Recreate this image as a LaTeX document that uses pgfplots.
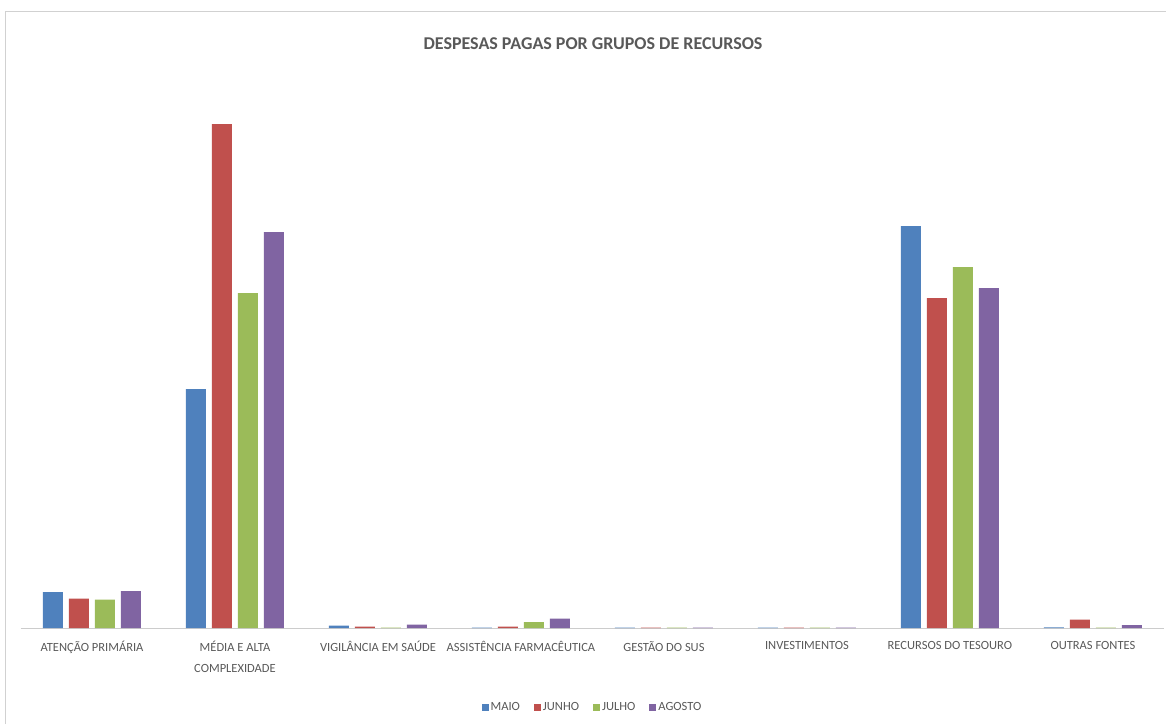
\documentclass[border=0pt]{standalone}
\usepackage{pgfplots}
\pgfplotsset{compat=1.18}
\usepackage{fontspec}
\setmainfont{Carlito}

\definecolor{cMaio}{HTML}{4F81BD}
\definecolor{cJunho}{HTML}{C0504D}
\definecolor{cJulho}{HTML}{9BBB59}
\definecolor{cAgosto}{HTML}{8064A2}
\definecolor{txt}{HTML}{595959}

\begin{document}
\begin{tikzpicture}
% canvas: the axis box starts at (0,0); the page runs from x=-20.5pt to 1145.5pt
\useasboundingbox (-20.5pt,-96pt) rectangle (1145.5pt,628pt);
% chart frame
\draw[black!18, line width=1pt] (-14.5pt,-96pt) -- (-14.5pt,616pt) -- (1145.5pt,616pt);
% title
\node[font=\bfseries\fontsize{18}{20}\selectfont, text=txt] at (572.5pt,584pt)
  {DESPESAS PAGAS POR GRUPOS DE RECURSOS};
\begin{axis}[
  scale only axis, width=1144pt, height=560pt,
  xmin=-0.5, xmax=7.5, ymin=0, ymax=560,
  ybar=6pt, bar width=20pt,
  axis y line=none, axis x line*=bottom,
  x axis line style={black!20, line width=1pt},
  ytick=\empty,
  xtick={0,...,7}, major tick length=0pt,
  xticklabels={ATENÇÃO PRIMÁRIA,{MÉDIA E ALTA\\COMPLEXIDADE},VIGILÂNCIA EM SAÚDE,ASSISTÊNCIA FARMACÊUTICA,GESTÃO DO SUS,INVESTIMENTOS,RECURSOS DO TESOURO,OUTRAS FONTES},
  xticklabel style={font=\fontsize{12.5}{21}\selectfont, text=txt, align=center, yshift=-10pt},
  legend columns=4,
  legend style={draw=none, at={(0.5,-0.142)}, anchor=center,
    font=\fontsize{12.5}{14}\selectfont, text=txt,
    /tikz/every even column/.append style={column sep=12pt}},
  legend image code/.code={\fill[#1] (0pt,-3.5pt) rectangle (7pt,3.5pt);},
]
\addplot[fill=cMaio, draw=none] coordinates {(0,36) (1,239) (2,2.3) (3,0.4) (4,0.3) (5,0.3) (6,402) (7,0.6)};
\addplot[fill=cJunho, draw=none] coordinates {(0,29.5) (1,504) (2,1.5) (3,1.5) (4,0.3) (5,0.5) (6,330) (7,8.4)};
\addplot[fill=cJulho, draw=none] coordinates {(0,28.5) (1,335) (2,0.4) (3,6) (4,0.3) (5,0.3) (6,361) (7,0.4)};
\addplot[fill=cAgosto, draw=none] coordinates {(0,37) (1,396) (2,3.3) (3,9.3) (4,0.3) (5,0.5) (6,340) (7,3)};
\legend{MAIO,JUNHO,JULHO,AGOSTO}
\end{axis}
\end{tikzpicture}
\end{document}
